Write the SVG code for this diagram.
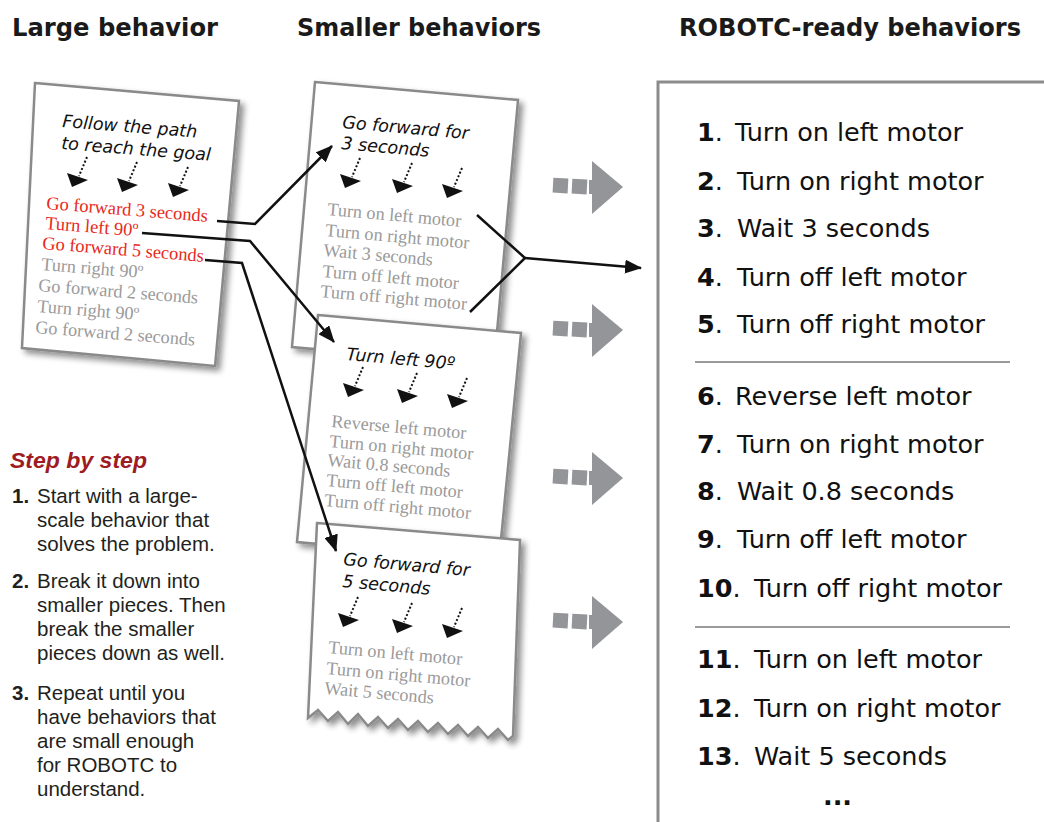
<svg xmlns="http://www.w3.org/2000/svg" width="1044" height="822" viewBox="0 0 1044 822">
<style>
.title{font-family:"DejaVu Sans",sans-serif;font-weight:bold;font-size:24px;fill:#1a1a1a}
.page{fill:#fff;stroke:#8a8a8a;stroke-width:2.5}
.comic{font-family:"DejaVu Sans",sans-serif;font-style:oblique;font-size:17.5px;fill:#111}
.red{font-family:"Liberation Serif",serif;font-size:18.4px;fill:#e8291c}
.gray{font-family:"Liberation Serif",serif;font-size:18.2px;fill:#9a9a9a}
.conn{fill:none;stroke:#111;stroke-width:2.5}
.step{font-family:"Liberation Sans",sans-serif;font-size:20.5px;fill:#231f20}
.stepn{font-weight:bold}
.list{font-family:"DejaVu Sans",sans-serif;font-size:25.5px;fill:#111}
.num{font-weight:bold}
.garr{fill:#939598}
.sep{stroke:#9a9a9a;stroke-width:2}
</style>
<defs>
<filter id="sh" x="-15%" y="-15%" width="135%" height="135%">
<feGaussianBlur in="SourceAlpha" stdDeviation="3"/>
<feOffset dx="4" dy="4"/>
<feComponentTransfer><feFuncA type="linear" slope="0.45"/></feComponentTransfer>
<feMerge><feMergeNode/><feMergeNode in="SourceGraphic"/></feMerge>
</filter>
<marker id="ah" markerWidth="17" markerHeight="14" refX="16" refY="7" orient="auto" markerUnits="userSpaceOnUse">
<path d="M0,0 L17,7 L0,14 Z" fill="#111"/>
</marker>
<g id="da">
<line x1="15" y1="-30" x2="7" y2="-11" stroke="#111" stroke-width="2" stroke-dasharray="2 2"/>
<polygon points="0,0 -5,-14 16,-7" fill="#111"/>
</g>
<g id="ga">
<rect x="0" y="-9" width="15" height="15" transform="rotate(3 7 -2)"/>
<rect x="19" y="-8" width="15" height="15" transform="rotate(3 26 -1)"/>
<rect x="36" y="-7" width="8" height="14"/>
<polygon points="39,-26 70,0 39,27"/>
</g>
</defs>

<g id="titles">
<text class="title" x="12" y="36" textLength="206" lengthAdjust="spacingAndGlyphs">Large behavior</text>
<text class="title" x="297" y="36" textLength="244" lengthAdjust="spacingAndGlyphs">Smaller behaviors</text>
<text class="title" x="679" y="36" textLength="342" lengthAdjust="spacingAndGlyphs">ROBOTC-ready behaviors</text>
</g>

<g id="large-page">
<polygon class="page" filter="url(#sh)" points="35,83 239,101 215,366 22,348"/>
<text class="comic" x="62" y="127" transform="rotate(4.5 62 127)">Follow the path</text>
<text class="comic" x="61" y="149" transform="rotate(4.5 61 149)">to reach the goal</text>
<use href="#da" x="72" y="187"/>
<use href="#da" x="122" y="192"/>
<use href="#da" x="173" y="197"/>
<text class="red" x="46" y="209" transform="rotate(4.5 46 209)">Go forward 3 seconds</text>
<text class="red" x="45" y="229" transform="rotate(4.5 45 229)">Turn left 90º</text>
<text class="red" x="42" y="249" transform="rotate(4.5 42 249)">Go forward 5 seconds</text>
<text class="gray" x="41" y="270" transform="rotate(4.5 41 270)">Turn right 90º</text>
<text class="gray" x="38" y="291" transform="rotate(4.5 38 291)">Go forward 2 seconds</text>
<text class="gray" x="37" y="312" transform="rotate(4.5 37 312)">Turn right 90º</text>
<text class="gray" x="35" y="333" transform="rotate(4.5 35 333)">Go forward 2 seconds</text>
</g>

<g id="page-forward3">
<polygon class="page" filter="url(#sh)" points="315,82 518,100 494,365 292,347"/>
<text class="comic" x="342" y="128" transform="rotate(5 342 128)" font-size="18">Go forward for</text>
<text class="comic" x="341" y="149" transform="rotate(5 341 149)" font-size="18">3 seconds</text>
<use href="#da" x="345" y="188"/>
<use href="#da" x="397" y="193"/>
<use href="#da" x="447" y="198"/>
<text class="gray" x="327" y="215" transform="rotate(5 327 215)">Turn on left motor</text>
<text class="gray" x="325" y="236" transform="rotate(5 325 236)">Turn on right motor</text>
<text class="gray" x="323" y="256" transform="rotate(5 323 256)">Wait 3 seconds</text>
<text class="gray" x="322" y="277" transform="rotate(5 322 277)">Turn off left motor</text>
<text class="gray" x="320" y="297" transform="rotate(5 320 297)">Turn off right motor</text>
</g>

<g id="page-left90">
<polygon class="page" filter="url(#sh)" points="318,315 521,333 499,560 297,542"/>
<text class="comic" x="346" y="360" transform="rotate(5 346 360)" font-size="18">Turn left 90º</text>
<use href="#da" x="348" y="397"/>
<use href="#da" x="402" y="403"/>
<use href="#da" x="452" y="408"/>
<text class="gray" x="331" y="427" transform="rotate(5 331 427)">Reverse left motor</text>
<text class="gray" x="329" y="447" transform="rotate(5 329 447)">Turn on right motor</text>
<text class="gray" x="327" y="466" transform="rotate(5 327 466)">Wait 0.8 seconds</text>
<text class="gray" x="326" y="486" transform="rotate(5 326 486)">Turn off left motor</text>
<text class="gray" x="324" y="506" transform="rotate(5 324 506)">Turn off right motor</text>
</g>

<g id="page-forward5">
<polygon class="page" filter="url(#sh)" points="317,523 520,540 513,736 508,740 498,729 488,738 478,727 468,736 458,725 448,734 438,723 428,732 418,721 408,730 398,719 388,728 378,717 368,726 358,714 348,724 338,712 328,721 318,710 308,718"/>
<text class="comic" x="343" y="565" transform="rotate(5 343 565)" font-size="18">Go forward for</text>
<text class="comic" x="342" y="587" transform="rotate(5 342 587)" font-size="18">5 seconds</text>
<use href="#da" x="343" y="627"/>
<use href="#da" x="397" y="633"/>
<use href="#da" x="447" y="638"/>
<text class="gray" x="328" y="653" transform="rotate(5 328 653)">Turn on left motor</text>
<text class="gray" x="326" y="674" transform="rotate(5 326 674)">Turn on right motor</text>
<text class="gray" x="324" y="694" transform="rotate(5 324 694)">Wait 5 seconds</text>
</g>

<g id="connectors">
<polyline class="conn" points="217,221 255,224 332,146" marker-end="url(#ah)"/>
<polyline class="conn" points="142,233 250,241 334,342" marker-end="url(#ah)"/>
<polyline class="conn" points="205,260 242,263 336,551" marker-end="url(#ah)"/>
<polyline class="conn" points="477,215 525,258 470,312"/>
<line class="conn" x1="525" y1="258" x2="641" y2="268" marker-end="url(#ah)"/>
</g>

<g id="gray-arrows" class="garr">
<use href="#ga" x="553" y="187"/>
<use href="#ga" x="553" y="330"/>
<use href="#ga" x="553" y="478"/>
<use href="#ga" x="553" y="622"/>
</g>

<g id="steps">
<text x="10" y="468" font-family="Liberation Sans, sans-serif" font-weight="bold" font-style="italic" font-size="22" fill="#9e1b22" textLength="137" lengthAdjust="spacingAndGlyphs">Step by step</text>
<text class="step stepn" x="12" y="503">1.</text>
<text class="step" x="37" y="503">Start with a large-</text>
<text class="step" x="37" y="527">scale behavior that</text>
<text class="step" x="37" y="551">solves the problem.</text>
<text class="step stepn" x="12" y="588">2.</text>
<text class="step" x="37" y="588">Break it down into</text>
<text class="step" x="37" y="612">smaller pieces. Then</text>
<text class="step" x="37" y="636">break the smaller</text>
<text class="step" x="37" y="660">pieces down as well.</text>
<text class="step stepn" x="12" y="700">3.</text>
<text class="step" x="37" y="700">Repeat until you</text>
<text class="step" x="37" y="724">have behaviors that</text>
<text class="step" x="37" y="748">are small enough</text>
<text class="step" x="37" y="772">for ROBOTC to</text>
<text class="step" x="37" y="796">understand.</text>
</g>

<g id="robotc-box">
<rect x="658" y="82" width="420" height="780" fill="none" stroke="#8c8c8c" stroke-width="3"/>
<line class="sep" x1="695" y1="362" x2="1010" y2="362"/>
<line class="sep" x1="695" y1="627" x2="1010" y2="627"/>
<text class="list" x="697" y="141"><tspan class="num">1</tspan>.</text><text class="list" x="735" y="141">Turn on left motor</text>
<text class="list" x="697" y="190"><tspan class="num">2</tspan>.</text><text class="list" x="737" y="190">Turn on right motor</text>
<text class="list" x="697" y="237"><tspan class="num">3</tspan>.</text><text class="list" x="737" y="237">Wait 3 seconds</text>
<text class="list" x="697" y="286"><tspan class="num">4</tspan>.</text><text class="list" x="737" y="286">Turn off left motor</text>
<text class="list" x="697" y="333"><tspan class="num">5</tspan>.</text><text class="list" x="737" y="333">Turn off right motor</text>
<text class="list" x="697" y="405"><tspan class="num">6</tspan>.</text><text class="list" x="735" y="405">Reverse left motor</text>
<text class="list" x="697" y="453"><tspan class="num">7</tspan>.</text><text class="list" x="737" y="453">Turn on right motor</text>
<text class="list" x="697" y="500"><tspan class="num">8</tspan>.</text><text class="list" x="737" y="500">Wait 0.8 seconds</text>
<text class="list" x="697" y="548"><tspan class="num">9</tspan>.</text><text class="list" x="737" y="548">Turn off left motor</text>
<text class="list" x="697" y="597"><tspan class="num">10</tspan>.</text><text class="list" x="754" y="597">Turn off right motor</text>
<text class="list" x="697" y="668"><tspan class="num">11</tspan>.</text><text class="list" x="754" y="668">Turn on left motor</text>
<text class="list" x="697" y="717"><tspan class="num">12</tspan>.</text><text class="list" x="754" y="717">Turn on right motor</text>
<text class="list" x="697" y="765"><tspan class="num">13</tspan>.</text><text class="list" x="754" y="765">Wait 5 seconds</text>
<text class="list num" x="823" y="805">...</text>
</g>
</svg>
